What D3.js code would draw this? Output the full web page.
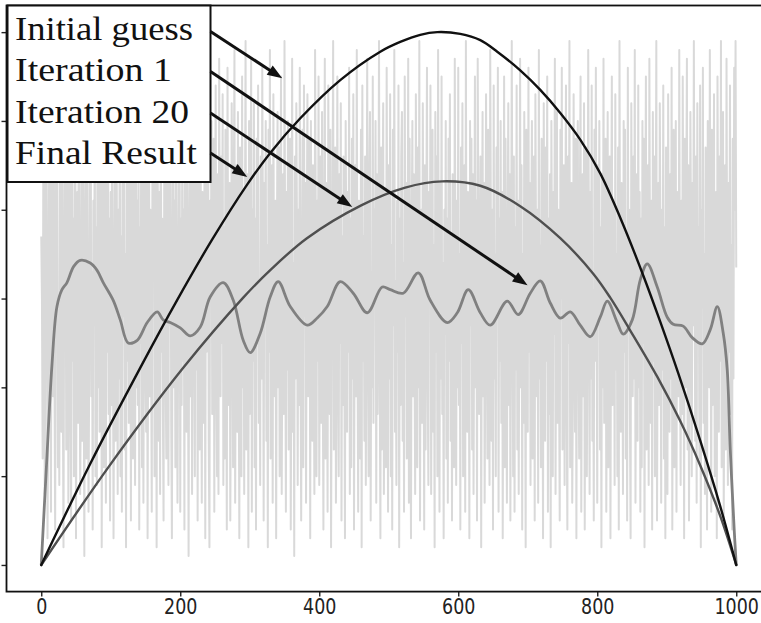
<!DOCTYPE html>
<html><head><meta charset="utf-8">
<script src="https://cdn.jsdelivr.net/npm/d3@7"></script>
<style>html,body{margin:0;padding:0;background:#fff;} svg{display:block;}</style>
</head><body>
<svg id="chart" width="761" height="623"></svg>
<script>
// ---------- data ----------
const noiseStep = 1; // x spacing of the initial-guess samples
const initialGuess = [
3.7,3.0,1.2,4.6,5.3,0.8,2.9,5.8,4.1,0.3,1.7,3.9,5.5,2.4,0.6,4.8,3.3,1.9,5.1,2.2,
0.4,3.6,5.9,4.4,1.1,2.7,0.9,5.2,3.8,1.5,4.9,2.1,0.2,3.4,5.7,4.0,1.3,2.6,5.4,0.7,
3.1,4.7,1.8,0.5,5.6,2.3,3.9,1.0,4.5,5.0,0.3,2.8,4.2,1.6,5.8,3.5,0.8,2.0,4.6,1.4,
5.3,2.5,0.1,3.7,4.9,1.2,5.5,3.0,0.6,2.2,4.4,5.9,1.9,3.3,0.4,4.1,2.7,5.1,1.0,3.8,
0.9,5.4,2.0,4.3,1.5,3.6,5.7,0.2,2.9,4.8,1.1,3.2,5.0,0.7,4.5,2.4,5.6,1.7,3.9,0.5,
4.2,1.8,5.2,3.1,0.3,2.6,4.7,1.4,5.8,3.4,0.8,4.0,2.1,5.3,1.0,3.7,0.6,4.9,2.8,5.5,
1.3,3.5,0.2,4.6,2.3,5.9,1.6,3.0,4.4,0.5,5.1,2.7,1.2,4.8,3.3,0.9,5.6,2.0,4.1,1.8,
5.0,0.4,3.8,2.5,5.4,1.1,4.3,0.7,3.6,5.7,2.2,1.5,4.9,0.3,3.1,5.2,1.9,4.0,2.6,0.6,
4.7,3.2,5.8,1.0,2.8,4.5,0.2,5.3,3.7,1.4,4.2,0.8,5.5,2.4,3.9,1.7,0.5,4.6,5.9,2.1,
1.2,4.4,3.0,0.9,5.1,2.7,4.8,1.6,0.3,3.5,5.6,2.0,4.1,1.1,5.0,3.3,0.7,2.5,4.7,5.4,
0.6,3.9,1.8,5.2,2.3,4.0,0.4,5.7,3.1,1.5,4.6,2.9,0.1,3.6,5.3,1.9,4.3,0.8,2.6,5.8,
3.4,1.0,4.9,2.2,5.5,0.5,3.7,4.5,1.3,5.9,2.8,0.7,4.2,3.0,1.6,5.1,0.3,4.7,2.4,3.8,
5.6,1.4,0.2,4.1,3.3,5.0,1.7,2.9,4.8,0.6,3.5,5.4,2.1,1.0,4.4,0.8,5.7,3.2,1.9,4.6,
2.5,5.3,0.9,3.8,1.2,4.9,2.7,0.4,5.6,3.1,1.8,4.3,0.5,2.2,5.2,3.9,1.1,4.0,5.8,0.7,
3.0,4.5,1.5,5.1,2.6,0.3,4.7,3.4,1.0,5.5,2.0,4.2,0.8,3.6,5.9,1.3,2.8,4.4,0.2,5.0,
1.7,3.3,5.7,0.6,4.0,2.3,5.2,1.1,3.9,0.4,4.8,2.5,5.4,1.6,3.2,0.9,4.6,2.1,5.6,3.7,
0.5,4.3,2.8,5.0,1.4,3.6,0.2,4.9,2.4,5.8,1.2,3.0,4.5,0.7,5.3,2.7,1.9,4.1,0.3,3.5,
5.1,2.0,4.7,1.0,3.8,5.5,0.8,2.9,4.4,1.7,5.9,3.3,0.6,4.2,2.2,5.0,1.3,3.9,4.8,0.4,
2.6,5.7,1.5,3.4,0.1,4.6,2.1,5.2,3.7,0.9,4.0,1.8,5.6,2.5,0.5,3.1,4.9,1.1,5.4,2.8,
4.3,0.7,3.6,5.3,1.9,2.4,4.8,0.3,5.0,3.2,1.4,4.5,2.7,0.8,5.8,3.9,1.0,4.1,2.3,5.5,
0.9,3.0,4.6,1.6,5.1,2.2,0.4,3.8,5.7,1.2,4.3,2.9,0.6,5.4,3.5,1.7,4.9,0.2,2.6,4.0,
5.9,1.3,3.3,4.7,0.7,2.0,5.5,3.1,1.0,4.4,2.5,5.2,0.5,3.7,1.8,4.6,2.8,0.3,5.0,3.4,
1.5,4.2,2.4,5.6,0.8,3.9,1.1,4.8,2.1,5.3,0.4,3.2,4.5,1.9,5.8,2.7,0.6,4.1,3.6,1.2,
4.9,0.2,5.4,2.3,3.7,1.4,4.6,0.9,3.0,5.7,2.6,1.0,4.3,5.1,0.5,3.3,2.0,5.5,1.6,4.0,
2.9,5.0,0.7,4.4,1.7,3.5,5.9,2.2,0.3,4.7,1.3,3.8,5.2,0.8,2.5,4.2,1.1,5.6,3.1,0.6,
4.5,2.1,5.3,1.0,3.6,0.4,4.9,2.7,5.8,1.5,3.2,0.9,4.1,2.4,5.4,0.2,3.9,1.8,4.6,5.1,
1.4,3.4,0.6,5.5,2.8,4.3,1.2,3.0,5.7,0.7,4.8,2.3,0.3,3.7,5.0,1.9,4.4,2.6,0.8,5.3,
3.5,1.1,4.7,2.0,5.9,0.5,3.3,4.0,1.6,5.2,2.9,0.4,4.5,1.3,3.8,5.6,2.2,0.9,4.2,3.0,
5.4,0.8,2.7,4.9,1.5,3.6,0.2,5.1,2.4,4.6,1.0,5.8,3.1,0.6,4.3,2.1,5.5,1.7,3.4,0.3,
4.0,2.6,5.0,1.2,3.9,0.7,4.8,2.3,5.3,1.4,3.7,0.5,4.4,2.8,1.1,5.7,3.2,0.9,4.1,2.0,
5.6,1.8,3.5,0.4,4.7,2.5,5.2,1.0,3.0,4.5,0.6,5.9,2.2,1.5,4.2,3.6,0.3,5.0,2.7,4.8,
1.3,4.4,0.8,3.3,5.5,2.0,4.1,0.5,5.7,3.8,1.7,2.9,4.6,0.2,3.4,5.1,1.9,4.3,0.7,2.4,
5.3,3.1,1.2,4.9,2.6,0.9,5.8,3.7,1.4,4.0,0.4,5.4,2.1,3.5,1.0,4.7,2.8,5.6,0.6,3.9,
2.3,5.0,1.6,4.2,0.3,3.0,5.5,1.1,4.8,2.5,0.7,3.6,5.2,1.8,4.4,0.5,2.9,5.9,3.3,1.0,
4.6,0.6,3.8,2.2,5.4,1.3,4.1,0.8,3.2,5.7,2.0,4.5,0.4,3.5,1.6,5.1,2.7,0.2,4.9,3.0,
1.5,5.6,2.4,4.3,0.9,3.7,5.0,1.2,2.8,4.6,0.5,5.3,3.4,1.9,4.0,0.7,5.8,2.1,3.6,1.1,
4.8,2.9,0.3,5.2,3.1,1.4,4.7,2.3,5.5,0.6,3.9,1.7,4.4,0.2,5.0,3.3,1.0,4.2,2.6,5.7,
0.8,3.5,5.1,1.6,4.0,2.2,0.5,4.9,3.0,5.6,1.3,2.7,4.5,0.9,3.8,5.4,1.8,0.4,4.6,2.5,
5.9,1.1,3.6,4.3,0.7,2.0,5.3,3.2,1.5,4.8,0.3,3.9,5.0,2.4,1.2,4.1,5.5,0.6,2.8,4.4,
1.9,5.2,0.4,3.4,4.7,1.0,2.6,5.8,3.7,0.8,4.2,2.1,5.4,1.4,3.1,0.5,4.9,2.3,5.6,3.0,
0.7,4.5,2.7,5.0,1.3,3.8,0.2,4.4,2.0,5.7,1.6,3.3,4.8,0.6,2.5,5.1,1.1,3.9,4.6,0.3,
3.6,5.5,1.8,2.9,4.1,0.9,5.3,2.2,3.5,1.0,4.7,0.4,5.9,2.6,1.5,4.3,3.0,0.8,5.0,2.4,
4.9,1.2,3.7,0.5,5.6,2.8,4.0,1.7,0.3,5.2,3.4,1.9,4.6,2.1,5.8,0.7,3.2,4.4,1.4,5.4,
2.0,4.2,0.6,3.9,1.1,5.0,2.5,4.8,0.2,3.6,5.5,1.3,2.7,4.5,0.9,5.7,3.1,1.6,4.1,0.4,
5.1,2.3,4.6,1.0,3.3,5.9,0.5,2.9,4.3,1.8,5.2,3.5,0.7,4.0,2.2,5.4,1.2,3.8,0.3,4.7,
2.6,0.8,5.3,3.0,1.5,4.4,2.1,5.6,0.4,3.7,4.9,1.1,2.8,5.0,0.6,4.2,3.4,1.9,5.8,2.4,
0.9,4.1,1.7,5.5,3.2,0.3,4.8,2.0,3.9,5.7,1.3,4.5,0.5,2.6,5.1,3.6,1.0,4.3,2.7,5.9,
3.3,1.4,4.6,0.7,5.2,2.5,3.8,1.2,5.4,0.2,4.0,2.9,5.6,1.6,3.5,0.8,4.7,2.2,0.4,5.0,
4.4,2.0,5.8,3.1,0.6,4.9,1.8,3.4,5.3,1.0,2.7,4.2,0.3,5.5,3.7,1.5,4.6,2.3,5.9,1.1,
3.9,5.1,0.5,2.8,4.5,1.3,5.7,3.0,0.9,4.3,2.4,5.4,1.7,3.6,0.4,4.8,2.1,5.6,4.0,5.9,
3.35];

const iter1X = [0,7.2,15.4,22.6,29.8,37,46.5,56.1,70.5,80.1,89.2,103.6,113.7,125.2,138.1,152.5,166.9,175.5,185.6,200,
214.4,228.8,243.2,261.9,276.3,290.6,300.7,315.1,329.5,341,358.3,382.7,397.1,411.5,430.2,448.9,469.1,490.6,502.2,520.9,
542.4,559.7,584.2,598.6,614.4,631.7,646,670.5,686.3,703.6,718,732.4,746.8,761.2,775.5,789.9,804.3,814.4,828.8,837.4,
850.4,861.9,872,886.3,900.7,909.4,923.7,936.7,951.1,962.6,972.7,981.3,987,991.4,997.1,1000];
const iter1Y = [0,1.07,2.25,2.91,3.10,3.18,3.36,3.43,3.40,3.32,3.18,2.98,2.76,2.50,2.53,2.73,2.85,2.76,2.73,2.67,
2.58,2.68,3.02,3.18,2.98,2.53,2.39,2.61,3.02,3.19,2.91,2.70,2.78,2.91,3.19,3.06,2.84,3.13,3.10,3.06,
3.29,2.98,2.73,2.84,3.10,2.84,2.70,2.97,2.82,3.06,3.20,2.95,2.78,2.85,2.70,2.57,2.79,2.97,2.73,2.60,
2.76,3.21,3.39,3.13,2.79,2.71,2.69,2.56,2.49,2.65,2.91,2.61,2.20,1.30,0.39,0];

const iter20X = [0,99.3,204.3,290.6,329.5,382.3,460.4,523.7,577,631.7,689.2,746.8,794.2,818.7,847.5,886.3,919.4,948.2,977,1000];
const iter20Y = [0,1.13,2.22,3.01,3.32,3.68,4.05,4.25,4.32,4.27,4.04,3.68,3.28,3.01,2.64,2.12,1.62,1.12,0.55,0];

const finalX = [0,70.5,142.4,195.3,245.6,296,329.5,372.7,430.2,487.8,516.5,545.3,569.8,602.9,631.7,656.1,689.2,718,746.8,775.5,804.3,833.1,866.2,890.6,916.5,948.2,977,1000];
const finalY = [0,1.14,2.22,2.98,3.66,4.28,4.64,5.03,5.46,5.78,5.89,5.97,6.0,5.98,5.91,5.78,5.57,5.35,5.09,4.79,4.41,3.91,3.26,2.74,2.16,1.40,0.66,0];

const xTicks = [0,200,400,600,800,1000];
const yTicks = [0,1,2,3,4,5,6];
const legendLabels = ["Initial guess","Iteration 1","Iteration 20","Final Result"];
const arrowTargetX = [346.8, 699.7, 447.5, 296.4];
const arrowTargetY = [5.48, 3.15, 4.03, 4.37];

// ---------- layout ----------
const svg = d3.select("#chart");
const plotL = 6.5, plotR = 771, plotT = 5.5, plotB = 591.6;
const x = d3.scaleLinear().domain([-50,1050]).range([plotL,plotR]);
const y = d3.scaleLinear().domain([-0.3,6.3]).range([plotB,plotT]);

svg.append("defs").append("clipPath").attr("id","clip")
  .append("rect").attr("x",plotL).attr("y",plotT).attr("width",plotR-plotL).attr("height",plotB-plotT);

const plot = svg.append("g").attr("clip-path","url(#clip)");

const noisePts = initialGuess.map((v,i)=>[i*noiseStep, v]);
plot.append("path").datum(noisePts)
  .attr("d", d3.line().x(d=>x(d[0])).y(d=>y(d[1])))
  .attr("fill","none").attr("stroke","#d9d9d9").attr("stroke-width",2.0)
  .attr("stroke-linejoin","round");

function smooth(xs, ys, color, w){
  const pts = xs.map((v,i)=>[v, ys[i]]);
  plot.append("path").datum(pts)
    .attr("d", d3.line().curve(d3.curveCatmullRom.alpha(0.5)).x(d=>x(d[0])).y(d=>y(d[1])))
    .attr("fill","none").attr("stroke",color).attr("stroke-width",w)
    .attr("stroke-linejoin","round").attr("stroke-linecap","round");
}
smooth(iter1X, iter1Y, "#808080", 2.8);
smooth(iter20X, iter20Y, "#4f4f4f", 2.4);
smooth(finalX, finalY, "#111111", 2.4);

// axes
const xAxis = svg.append("g").attr("transform",`translate(0,${plotB})`)
  .call(d3.axisBottom(x).tickValues(xTicks).tickSize(5).tickPadding(5).tickFormat(d3.format("d")));
xAxis.select(".domain").remove();
xAxis.selectAll("line").attr("stroke","#222").attr("stroke-width",1.4);
xAxis.selectAll("text").attr("font-family","DejaVu Sans").attr("font-size",17.5).attr("fill","#222")
  .attr("y",6).attr("transform","scale(1,1.2)");

const yAxis = svg.append("g").attr("transform",`translate(${plotL},0)`)
  .call(d3.axisLeft(y).tickValues(yTicks).tickSize(5).tickFormat(""));
yAxis.select(".domain").remove();
yAxis.selectAll("line").attr("stroke","#222").attr("stroke-width",1.4);

// spines
svg.append("rect").attr("x",plotL).attr("y",plotT).attr("width",plotR-plotL).attr("height",plotB-plotT)
  .attr("fill","none").attr("stroke","#111").attr("stroke-width",1.8);

// legend box
const box = {x0:7.5, y0:5.5, x1:210.5, y1:182};
svg.append("rect").attr("x",box.x0).attr("y",box.y0).attr("width",box.x1-box.x0).attr("height",box.y1-box.y0)
  .attr("fill","#fff").attr("stroke","#111").attr("stroke-width",2);
const textLens = [178,157,174,182];
const baselines = [39.5, 81, 122.5, 163.5];
legendLabels.forEach((t,i)=>{
  svg.append("text").attr("x",15).attr("y",baselines[i])
    .attr("font-family","'Liberation Serif', 'Times New Roman', serif").attr("font-size",34)
    .attr("textLength",textLens[i]).attr("lengthAdjust","spacingAndGlyphs")
    .attr("fill","#111").text(t);
});

// arrows
const starts = [31.5, 71.5, 113, 153];
const headLen = 15, headW = 11;
legendLabels.forEach((t,i)=>{
  const sx = box.x1, sy = starts[i];
  const tx = x(arrowTargetX[i]), ty = y(arrowTargetY[i]);
  const dx = tx-sx, dy = ty-sy, L = Math.hypot(dx,dy);
  const ux = dx/L, uy = dy/L;
  const bx = tx-ux*headLen, by = ty-uy*headLen;
  svg.append("line").attr("x1",sx).attr("y1",sy).attr("x2",bx+ux*1).attr("y2",by+uy*1)
    .attr("stroke","#111").attr("stroke-width",3);
  const px = -uy, py = ux;
  svg.append("path")
    .attr("d",`M${tx},${ty}L${bx+px*headW/2},${by+py*headW/2}L${bx-px*headW/2},${by-py*headW/2}Z`)
    .attr("fill","#111");
});
</script>
</body></html>
